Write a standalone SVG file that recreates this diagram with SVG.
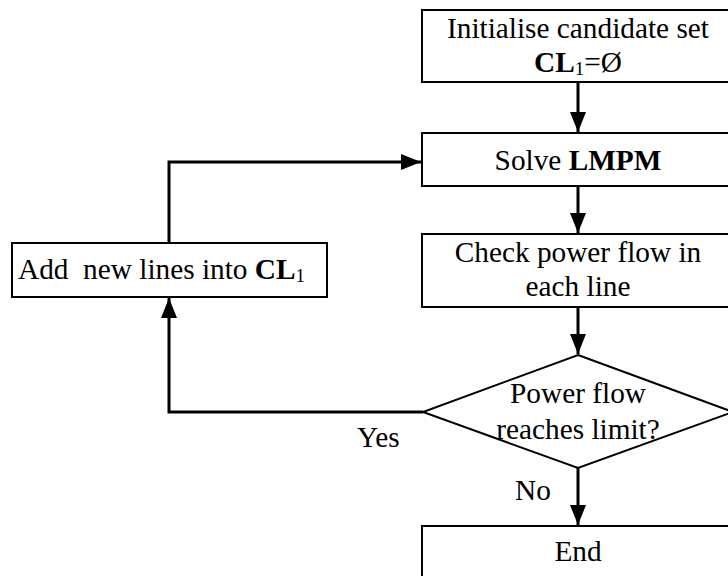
<svg xmlns="http://www.w3.org/2000/svg" width="728" height="576" viewBox="0 0 728 576">
<style>
.box{fill:#fff;stroke:#000;stroke-width:2}
.t{font-family:"Liberation Serif","Times New Roman",serif;font-size:29.3px;fill:#000}
.b{font-weight:bold}
.sub{font-size:19px}
.c{fill:none;stroke:#000;stroke-width:3}
</style>
<defs>
<marker id="ah" markerUnits="userSpaceOnUse" markerWidth="22" markerHeight="18" refX="20" refY="8" orient="auto">
<path d="M0,0 L20,8 L0,16 Z" fill="#000"/>
</marker>
</defs>
<rect width="728" height="576" fill="#fff"/>
<g id="connectors">
<line class="c" x1="578" y1="82" x2="578" y2="132" marker-end="url(#ah)"/>
<line class="c" x1="578" y1="186" x2="578" y2="233" marker-end="url(#ah)"/>
<line class="c" x1="578" y1="307" x2="578" y2="354" marker-end="url(#ah)"/>
<line class="c" x1="578" y1="468" x2="578" y2="525" marker-end="url(#ah)"/>
<polyline class="c" points="423,412 169,412 169,298" marker-end="url(#ah)"/>
<polyline class="c" points="169,243 169,162 421,162" marker-end="url(#ah)"/>
<text class="t" x="357" y="447">Yes</text>
<text class="t" x="515" y="500">No</text>
</g>
<g id="init">
<rect class="box" x="422" y="10" width="320" height="72"/>
<text class="t" x="578" y="38" text-anchor="middle">Initialise candidate set</text>
<text class="t" x="578" y="72" text-anchor="middle"><tspan class="b">CL</tspan><tspan class="sub" dy="3">1</tspan><tspan dy="-3">=Ø</tspan></text>
</g>
<g id="solve">
<rect class="box" x="422" y="133" width="320" height="53"/>
<text class="t" x="578" y="170" text-anchor="middle">Solve <tspan class="b">LMPM</tspan></text>
</g>
<g id="check">
<rect class="box" x="422" y="234" width="320" height="73"/>
<text class="t" x="578" y="262" text-anchor="middle">Check power flow in</text>
<text class="t" x="578" y="296" text-anchor="middle">each line</text>
</g>
<g id="decision">
<polygon class="box" points="578,355 733,412 578,468 423,412"/>
<text class="t" x="578" y="403" text-anchor="middle">Power flow</text>
<text class="t" x="578" y="439" text-anchor="middle">reaches limit?</text>
</g>
<g id="add">
<rect class="box" x="12" y="243" width="315" height="54"/>
<text class="t" x="18" y="279" xml:space="preserve">Add  new lines into <tspan class="b">CL</tspan><tspan class="sub" dy="3">1</tspan></text>
</g>
<g id="end">
<rect class="box" x="422" y="526" width="320" height="70"/>
<text class="t" x="578" y="561" text-anchor="middle">End</text>
</g>
</svg>
